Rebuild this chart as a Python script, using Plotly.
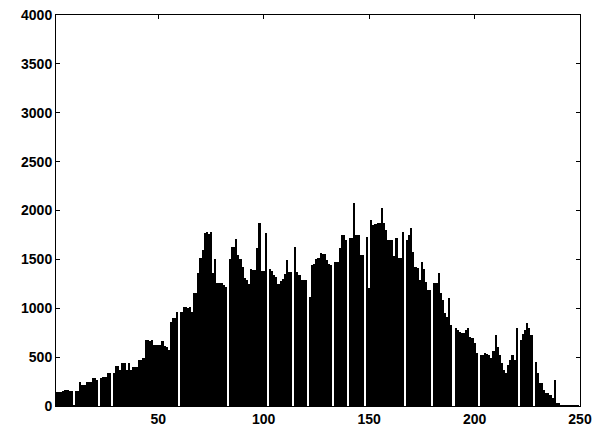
import plotly.graph_objects as go

# Histogram bin centres (grey levels) and counts
bins = list(range(256))
counts = [
    0, 140, 146, 146, 146, 155, 160, 160, 155, 150,            # 0-9
    10, 150, 150, 250, 215, 215, 250, 250, 250, 283,           # 10-19
    283, 270, 0, 283, 300, 300, 333, 340, 0, 340,              # 20-29
    409, 409, 370, 436, 436, 370, 436, 370, 400, 400,          # 30-39
    400, 470, 470, 490, 675, 675, 660, 675, 624, 624,          # 40-49
    624, 624, 660, 610, 600, 573, 862, 897, 897, 965,          # 50-59
    0, 965, 1016, 1016, 1000, 1016, 965, 1153, 1153, 1357,     # 60-69
    1511, 1600, 1770, 1780, 1760, 1780, 1360, 1500, 1255, 1255,  # 70-79
    1255, 1240, 1220, 0, 1500, 1630, 1630, 1705, 1545, 1500,   # 80-89
    1425, 1306, 1290, 1250, 1400, 1390, 1390, 1613, 1869, 1381,  # 90-99
    1381, 1767, 0, 1400, 1381, 1340, 1315, 1245, 1280, 1300,   # 100-109
    1350, 1494, 1370, 1370, 0, 1630, 1370, 1340, 1290, 1290,   # 110-119
    1290, 0, 1118, 1442, 1450, 1500, 1511, 1562, 1560, 1560,   # 120-129
    1494, 1450, 1440, 0, 1477, 1477, 1613, 1750, 1750, 1700,   # 130-139
    0, 1715, 1715, 2074, 1750, 1750, 1545, 1545, 0, 1733,      # 140-149
    1210, 1903, 1850, 1860, 1870, 1870, 2022, 1870, 1800, 1700,  # 150-159
    1700, 1700, 1530, 1720, 1510, 1510, 1783, 0, 1700, 1750,   # 160-169
    1820, 1580, 1420, 1408, 1290, 1477, 1400, 1270, 1187, 1187,  # 170-179
    0, 1255, 1255, 1357, 1153, 1085, 950, 914, 1102, 830,      # 180-189
    0, 795, 780, 760, 745, 745, 780, 795, 709, 700,            # 190-199
    641, 539, 0, 522, 522, 540, 530, 522, 488, 560,            # 200-209
    726, 600, 522, 436, 370, 340, 420, 470, 522, 470,          # 210-219
    800, 0, 675, 740, 777, 846, 795, 726, 0, 450,              # 220-229
    334, 232, 232, 164, 130, 130, 113, 78, 266, 27,            # 230-239
    27, 10, 10, 5, 5, 5, 5, 3, 3, 2,                           # 240-249
    0, 0, 0, 0, 0, 0,                                          # 250-255
]
assert len(counts) == len(bins)

x_ticks = [50, 100, 150, 200, 250]
y_ticks = [0, 500, 1000, 1500, 2000, 2500, 3000, 3500, 4000]

fig = go.Figure(
    go.Bar(
        x=bins,
        y=counts,
        width=1,
        marker=dict(color="black", line=dict(width=0)),
        hoverinfo="x+y",
    )
)

tick_font = dict(family="Liberation Sans, Arial, sans-serif", size=14, color="black", weight="bold")

axis_common = dict(
    ticks="inside",
    ticklen=4,
    tickwidth=1,
    tickcolor="black",
    showline=True,
    linecolor="black",
    linewidth=1,
    mirror="ticks",
    showgrid=False,
    zeroline=False,
    tickfont=tick_font,
    automargin=False,
)

fig.update_layout(
    template="none",
    width=599,
    height=430,
    margin=dict(l=56, r=19, t=15, b=24),
    paper_bgcolor="white",
    plot_bgcolor="white",
    bargap=0,
    showlegend=False,
    xaxis=dict(range=[1.5, 250], tickvals=x_ticks,
               ticktext=[str(v) for v in x_ticks], **axis_common),
    yaxis=dict(range=[0, 4000], tickvals=y_ticks,
               ticktext=[str(v) for v in y_ticks], **axis_common),
)

fig.write_html(
    "out.html",
    config={"displayModeBar": False},
    post_script="document.body.style.margin='0';document.body.style.padding='0';",
)
